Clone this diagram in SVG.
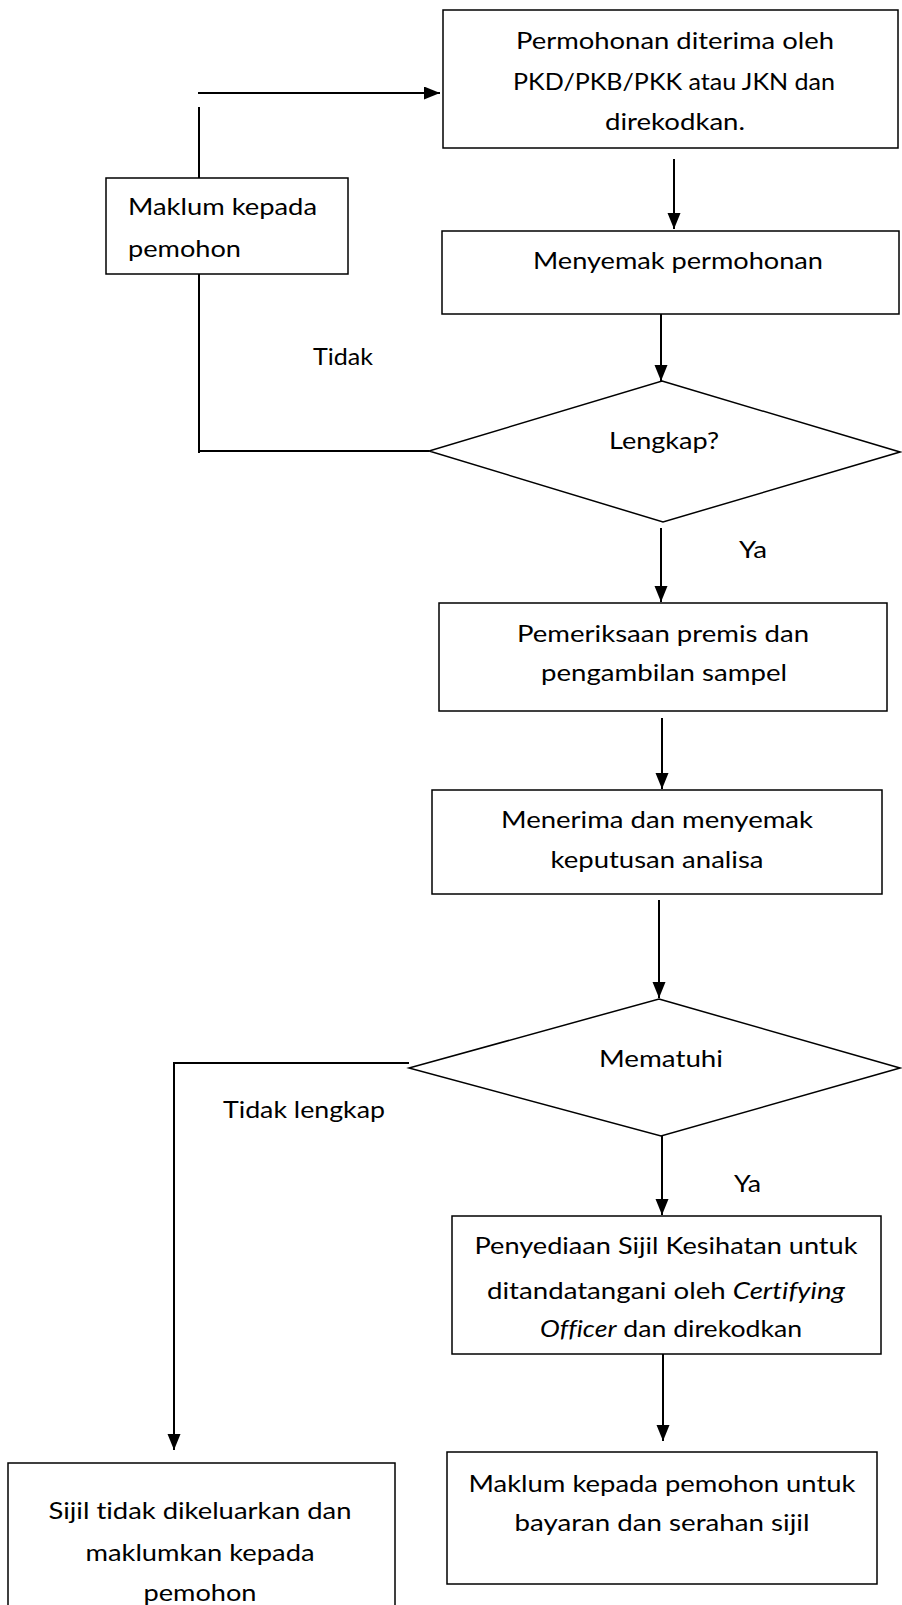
<svg xmlns="http://www.w3.org/2000/svg" width="902" height="1605" viewBox="0 0 902 1605">
<style>
.box{fill:#fff;stroke:#000;stroke-width:1.5}
.t{font-family:Lato,"Liberation Sans",sans-serif;font-size:24px;fill:#000;font-variant-ligatures:none;font-feature-settings:"liga" 0}
.c{text-anchor:middle}
.ln{fill:none;stroke:#000;stroke-width:2}
</style>
<defs>
<marker id="ah" markerUnits="userSpaceOnUse" markerWidth="17" markerHeight="14" refX="16" refY="6.5" orient="auto">
<path d="M0,0 L16,6.5 L0,13 z" fill="#000"/>
</marker>
</defs>
<rect width="902" height="1605" fill="#fff"/>
<g id="connectors">
<line class="ln" x1="198" y1="93" x2="440" y2="93" marker-end="url(#ah)"/>
<line class="ln" x1="199" y1="107" x2="199" y2="178"/>
<polyline class="ln" points="199,274 199,453"/>
<line class="ln" x1="199" y1="451" x2="429" y2="451"/>
<line class="ln" x1="674" y1="159" x2="674" y2="229" marker-end="url(#ah)"/>
<line class="ln" x1="661" y1="314" x2="661" y2="381" marker-end="url(#ah)"/>
<line class="ln" x1="661" y1="528" x2="661" y2="602" marker-end="url(#ah)"/>
<line class="ln" x1="662" y1="718" x2="662" y2="789" marker-end="url(#ah)"/>
<line class="ln" x1="659" y1="900" x2="659" y2="998" marker-end="url(#ah)"/>
<polyline class="ln" points="409,1063 174,1063 174,1450" marker-end="url(#ah)"/>
<line class="ln" x1="662" y1="1136" x2="662" y2="1215" marker-end="url(#ah)"/>
<line class="ln" x1="663" y1="1353" x2="663" y2="1441" marker-end="url(#ah)"/>
</g>
<g id="n_terima">
<rect class="box" x="443" y="10" width="455" height="138"/>
<text class="t c" x="675" y="49" textLength="318" lengthAdjust="spacingAndGlyphs">Permohonan diterima oleh</text>
<text class="t c" x="674" y="90" textLength="322" lengthAdjust="spacingAndGlyphs">PKD/PKB/PKK atau JKN dan</text>
<text class="t c" x="675" y="130" textLength="140" lengthAdjust="spacingAndGlyphs">direkodkan.</text>
</g>
<g id="n_maklum1">
<rect class="box" x="106" y="178" width="242" height="96"/>
<text class="t" x="128" y="215" textLength="189" lengthAdjust="spacingAndGlyphs">Maklum kepada</text>
<text class="t" x="128" y="257" textLength="113" lengthAdjust="spacingAndGlyphs">pemohon</text>
</g>
<g id="n_semak">
<rect class="box" x="442" y="231" width="457" height="83"/>
<text class="t c" x="678" y="269" textLength="290" lengthAdjust="spacingAndGlyphs">Menyemak permohonan</text>
</g>
<g id="n_lengkap">
<polygon class="box" points="662,381 900,452 663,522 429,451"/>
<text class="t c" x="664" y="449" textLength="110" lengthAdjust="spacingAndGlyphs">Lengkap?</text>
</g>
<g id="n_periksa">
<rect class="box" x="439" y="603" width="448" height="108"/>
<text class="t c" x="663" y="642" textLength="292" lengthAdjust="spacingAndGlyphs">Pemeriksaan premis dan</text>
<text class="t c" x="664" y="681" textLength="246" lengthAdjust="spacingAndGlyphs">pengambilan sampel</text>
</g>
<g id="n_terima_analisa">
<rect class="box" x="432" y="790" width="450" height="104"/>
<text class="t c" x="657" y="828" textLength="312" lengthAdjust="spacingAndGlyphs">Menerima dan menyemak</text>
<text class="t c" x="657" y="868" textLength="213" lengthAdjust="spacingAndGlyphs">keputusan analisa</text>
</g>
<g id="n_patuhi">
<polygon class="box" points="659,999 900,1068 661,1136 409,1068"/>
<text class="t c" x="661" y="1067" textLength="124" lengthAdjust="spacingAndGlyphs">Mematuhi</text>
</g>
<g id="n_sijil">
<rect class="box" x="452" y="1216" width="429" height="138"/>
<text class="t c" x="666" y="1254" textLength="383" lengthAdjust="spacingAndGlyphs">Penyediaan Sijil Kesihatan untuk</text>
<text class="t c" x="666" y="1299" textLength="358" lengthAdjust="spacingAndGlyphs">ditandatangani oleh <tspan font-style="italic">Certifying</tspan></text>
<text class="t c" x="671" y="1337" textLength="262" lengthAdjust="spacingAndGlyphs"><tspan font-style="italic">Officer</tspan> dan direkodkan</text>
</g>
<g id="n_tidak_keluar">
<rect class="box" x="8" y="1463" width="387" height="160"/>
<text class="t c" x="200" y="1519" textLength="303" lengthAdjust="spacingAndGlyphs">Sijil tidak dikeluarkan dan</text>
<text class="t c" x="200" y="1561" textLength="229" lengthAdjust="spacingAndGlyphs">maklumkan kepada</text>
<text class="t c" x="200" y="1601" textLength="113" lengthAdjust="spacingAndGlyphs">pemohon</text>
</g>
<g id="n_maklum2">
<rect class="box" x="447" y="1452" width="430" height="132"/>
<text class="t c" x="662" y="1492" textLength="387" lengthAdjust="spacingAndGlyphs">Maklum kepada pemohon untuk</text>
<text class="t c" x="662" y="1531" textLength="295" lengthAdjust="spacingAndGlyphs">bayaran dan serahan sijil</text>
</g>
<g id="labels">
<text class="t" x="313" y="365" textLength="60" lengthAdjust="spacingAndGlyphs">Tidak</text>
<text class="t" x="739" y="558" textLength="28" lengthAdjust="spacingAndGlyphs">Ya</text>
<text class="t" x="223" y="1118" textLength="162" lengthAdjust="spacingAndGlyphs">Tidak lengkap</text>
<text class="t" x="734" y="1192" textLength="27" lengthAdjust="spacingAndGlyphs">Ya</text>
</g>
</svg>
